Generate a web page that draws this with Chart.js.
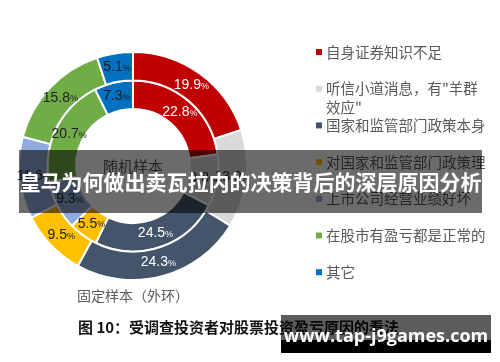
<!DOCTYPE html>
<html>
<head>
<meta charset="utf-8">
<script src="https://cdn.jsdelivr.net/npm/chart.js@4.4.1/dist/chart.umd.min.js"></script>
<style>
  body { margin: 0; background: #fff; }
  #wrap { position: relative; width: 500px; height: 362px; overflow: hidden; font-family: "Noto Sans CJK SC", sans-serif; }
  #chart { position: absolute; left: 0; top: 0; }
  .caption { position: absolute; left: 78px; top: 316px; font-size: 15px; font-weight: bold; color: #111; white-space: nowrap; line-height: 22px; }
  .banner { position: absolute; left: 19px; top: 150px; width: 463px; height: 63px; background: rgba(0,0,0,0.58);
            color: #fff; font-weight: bold; font-size: 21px; line-height: 63px; text-align: center; white-space: nowrap; }
  .mark { position: absolute; left: 281px; top: 315px; width: 210px; height: 38px; }
  .mark .top { position: absolute; left: 0; top: 0; width: 210px; height: 25px; background: rgba(0,0,0,0.64); }
  .mark .bot { position: absolute; left: 0; top: 25px; width: 210px; height: 13px; background: #000; }
  .mark .txt { position: absolute; left: 0; top: 8px; width: 210px; text-align: center; color: #fff; font-family: "Open Sans", sans-serif;
               font-weight: bold; font-size: 18px; line-height: 24px; white-space: nowrap; }
</style>
</head>
<body>
<div id="wrap">
  <canvas id="chart" width="500" height="362"></canvas>
  <div class="caption">图 10：受调查投资者对股票投资盈亏原因的看法</div>
  <div class="banner">皇马为何做出卖瓦拉内的决策背后的深层原因分析</div>
  <div class="mark"><div class="top"></div><div class="bot"></div><div class="txt">www.tap-j9games.com</div></div>
</div>
<script>
// categories (legend order)
const categories = [
  '自身证券知识不足',
  '听信小道消息，有"羊群\n效应"',
  '国家和监管部门政策本身',
  '对国家和监管部门政策理',
  '上市公司经营业绩好坏',
  '在股市有盈亏都是正常的',
  '其它'
];
// outer ring: 固定样本, inner ring: 随机样本 (percent)
const fixedSample = [19.9, 13.9, 24.3, 9.5, 11.6, 15.8, 5.1];
const randomSample = [22.8, 9.8, 24.5, 5.5, 9.3, 20.7, 7.3];
const colors = ['#C00000', '#D9D9D9', '#44546A', '#FFC000', '#8FAADC', '#70AD47', '#0070C0'];
const labelColors = ['#fff', '#222', '#fff', '#222', '#222', '#222', '#1c1c1c'];

// numbers inside the slices
const sliceLabels = {
  id: 'sliceLabels',
  afterDatasetsDraw(chart) {
    const ctx = chart.ctx;
    ctx.save();
    ctx.textBaseline = 'middle';
    chart.data.datasets.forEach((ds, di) => {
      const meta = chart.getDatasetMeta(di);
      meta.data.forEach((arc, i) => {
        const p = arc.getCenterPoint();
        const num = ds.data[i].toFixed(1);
        ctx.font = '14px "Liberation Sans", Arial';
        const w1 = ctx.measureText(num).width;
        ctx.font = '9px "Liberation Sans", Arial';
        const w2 = ctx.measureText('%').width;
        const x0 = p.x - (w1 + w2) / 2;
        ctx.fillStyle = labelColors[i];
        ctx.font = '14px "Liberation Sans", Arial';
        ctx.textAlign = 'left';
        ctx.fillText(num, x0, p.y);
        ctx.font = '9px "Liberation Sans", Arial';
        ctx.fillText('%', x0 + w1, p.y + 1);
      });
    });
    // center and bottom titles
    const c = chart.getDatasetMeta(0).data[0];
    ctx.fillStyle = '#595959';
    ctx.textAlign = 'center';
    ctx.font = '15px "Noto Sans CJK SC"';
    ctx.fillText('随机样本', c.x, c.y);
    ctx.font = '14px "Noto Sans CJK SC"';
    ctx.fillText('固定样本（外环）', c.x, c.y + c.outerRadius + 16);
    ctx.restore();
  }
};

// legend on the right
const sideLegend = {
  id: 'sideLegend',
  afterDraw(chart) {
    const ctx = chart.ctx;
    ctx.save();
    ctx.textBaseline = 'middle';
    ctx.textAlign = 'left';
    ctx.font = '14.5px "Noto Sans CJK SC"';
    categories.forEach((label, i) => {
      const y = 52 + i * 36.7;
      ctx.fillStyle = colors[i];
      ctx.fillRect(316, y - 3, 6, 6);
      ctx.fillStyle = '#595959';
      label.split('\n').forEach((line, k) => {
        ctx.fillText(line, 326, y + k * 19);
      });
    });
    ctx.restore();
  }
};

new Chart(document.getElementById('chart'), {
  type: 'doughnut',
  data: {
    labels: categories,
    datasets: [
      { label: '固定样本', data: fixedSample, backgroundColor: colors, borderColor: '#fff', borderWidth: 2 },
      { label: '随机样本', data: randomSample, backgroundColor: colors, borderColor: '#fff', borderWidth: 2 }
    ]
  },
  options: {
    responsive: false,
    animation: false,
    events: [],
    cutout: '50%',
    hoverOffset: 0,
    layout: { padding: { left: 18, right: 252, top: 51, bottom: 81 } },
    plugins: {
      legend: { display: false },
      tooltip: { enabled: false }
    }
  },
  plugins: [sliceLabels, sideLegend]
});
</script>
</body>
</html>
